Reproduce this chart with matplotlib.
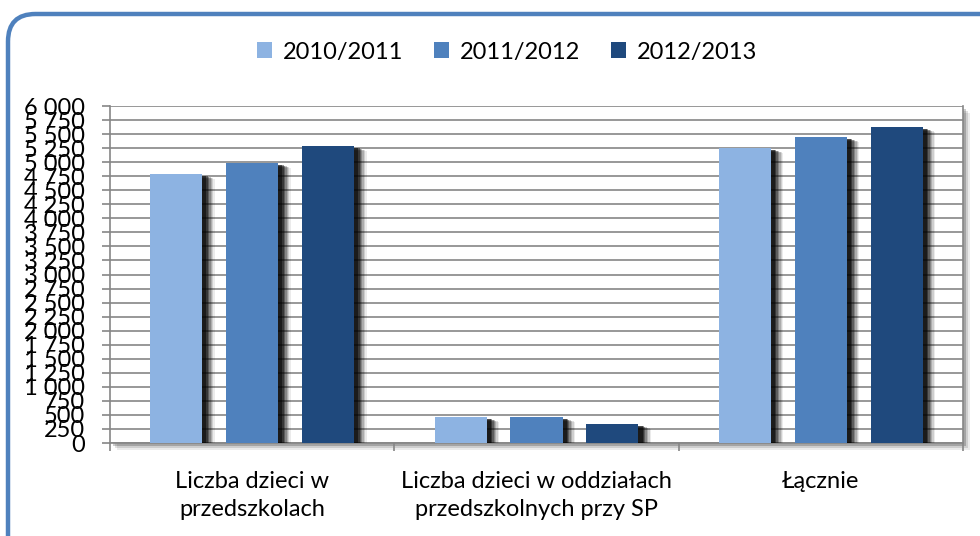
import matplotlib.pyplot as plt
import matplotlib.patheffects as pe
from matplotlib.patches import FancyBboxPatch, Rectangle
from matplotlib.ticker import FuncFormatter
import numpy as np

plt.rcParams['font.family'] = ['Lato', 'DejaVu Sans']

categories = ['Liczba dzieci w\nprzedszkolach',
              'Liczba dzieci w oddziałach\nprzedszkolnych przy SP',
              'Łącznie']
series_names = ['2010/2011', '2011/2012', '2012/2013']
v_2010 = [4790, 463, 5253]
v_2011 = [4985, 463, 5448]
v_2012 = [5290, 338, 5628]
colors = ['#8DB3E2', '#4F81BD', '#1F497D']

BAR_W = 0.183
STEP = 0.267


def shadow_effects():
    # fake blurred drop shadow from stacked offsets
    effs = []
    for d, a in ((9, 0.08), (8, 0.12), (7, 0.16), (6, 0.22), (5, 0.3), (4, 0.4), (3, 0.5)):
        effs.append(pe.SimplePatchShadow(offset=(d, -d * 0.4), shadow_rgbFace='k', alpha=a))
    effs.append(pe.Normal())
    return effs


def main():
    fig = plt.figure(figsize=(9.8, 5.36), dpi=100)

    # rounded outer frame, cut off on the right and bottom
    frame = FancyBboxPatch((8 / 980, -0.1), 1.1, 1 - 14 / 536 + 0.1,
                           boxstyle='round,pad=0,rounding_size=0.028',
                           transform=fig.transFigure, facecolor='white',
                           edgecolor='#4F81BD', linewidth=3.2, mutation_aspect=980 / 536,
                           zorder=-5)
    fig.patches.append(frame)

    left, bottom = 110 / 980, 1 - 443 / 536
    width, height = 853 / 980, 337 / 536
    # plot-area shadow
    for d, a in ((7, 0.08), (5, 0.12), (3, 0.2)):
        fig.patches.append(Rectangle((left + d / 980, bottom - d / 536), width, height,
                                     transform=fig.transFigure, facecolor='k',
                                     alpha=a, edgecolor='none', zorder=-4))

    ax = fig.add_axes([left, bottom, width, height])
    ax.set_facecolor('white')

    x = np.arange(len(categories))
    for i, (vals, c, name) in enumerate(zip([v_2010, v_2011, v_2012], colors, series_names)):
        bars = ax.bar(x + (i - 1) * STEP, vals, BAR_W, color=c, label=name, zorder=3)
        for b in bars:
            b.set_path_effects(shadow_effects())

    ax.set_xlim(-0.5, 2.5)
    ax.set_ylim(0, 6000)
    ax.set_yticks(np.arange(0, 6001, 250))
    ax.yaxis.set_major_formatter(FuncFormatter(lambda v, p: f'{int(v):,}'.replace(',', ' ')))
    ax.grid(axis='y', color='#868686', linewidth=1.2, zorder=0)
    ax.set_axisbelow(True)

    ax.set_xticks([-0.5, 0.5, 1.5, 2.5])
    ax.set_xticklabels([])
    ax.set_xticks(x, minor=True)
    ax.set_xticklabels(categories, minor=True, fontsize=17, linespacing=1.45)
    ax.tick_params(axis='x', which='minor', length=0, pad=20)
    ax.tick_params(axis='x', which='major', length=6, color='#868686', width=1.2)
    ax.tick_params(axis='y', length=6, color='#868686', width=1.2, labelsize=17, pad=12)

    for s in ('left', 'bottom', 'right'):
        ax.spines[s].set_color('#868686')
        ax.spines[s].set_linewidth(1.2)
    ax.spines['top'].set_visible(False)

    leg = fig.legend(loc='center', bbox_to_anchor=(507 / 980, 1 - 52 / 536),
                     ncol=3, frameon=False, fontsize=17, handlelength=0.65, handleheight=0.65,
                     handletextpad=0.45, columnspacing=1.3)
    for h in leg.get_patches():
        h.set_path_effects([])

    fig.savefig('out.png', dpi=100)


if __name__ == '__main__': main()
